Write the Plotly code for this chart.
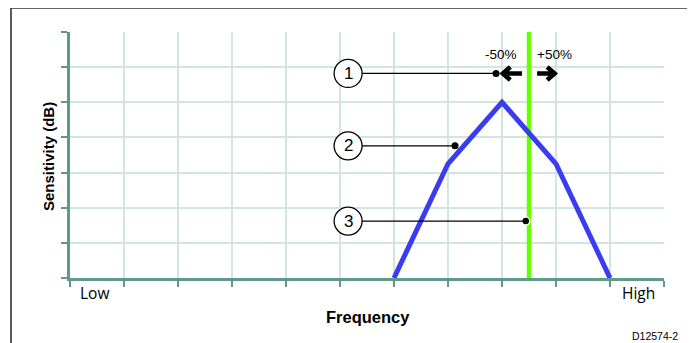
import plotly.graph_objects as go

# ---- data ----
freq_pts = [6, 7, 8, 9, 10]
sens_pts = [0, 3.25, 5, 3.25, 0]
center_freq = 8.5
x_tick_labels = ["Low", "High"]
x_tick_label_pos = [0.46, 10.52]
callout_nums = ["1", "2", "3"]
callout_circle_x = [5.15, 5.15, 5.15]
callout_y = [5.82, 3.76, 1.62]
callout_dot_x = [7.89, 7.13, 8.44]
pct_labels = ["-50%", "+50%"]
pct_label_x = [7.99, 8.98]
pct_label_y = 6.35
arrow_head_x = [7.96, 9.03]
arrow_tail_x = [8.37, 8.65]

AXC = "#5e9a8b"
GRIDC = "#cfe7de"
PX_PER_X = 54.0
PX_PER_Y = 246 / 7

# plot area in page pixels: x 70..664, y 32..278 (page body has 8px margin)
def px_x(p):
    return (p - 70) / 594

def px_y(p):
    return (278 - p) / 246

fig = go.Figure()

fig.add_trace(go.Scatter(x=[center_freq, center_freq], y=[0, 7], mode="lines",
                         line=dict(color="#66ff00", width=4.5), hoverinfo="skip"))
fig.add_trace(go.Scatter(x=freq_pts, y=sens_pts, mode="lines",
                         line=dict(color="#3b3bf2", width=5), hoverinfo="skip"))

shapes = []
for cx, cy, dx in zip(callout_circle_x, callout_y, callout_dot_x):
    shapes.append(dict(type="line", xref="x", yref="y", x0=cx + 14 / PX_PER_X, x1=dx,
                       y0=cy, y1=cy, line=dict(color="black", width=1.3)))
    shapes.append(dict(type="circle", xref="x", yref="y", xsizemode="pixel",
                       ysizemode="pixel", xanchor=cx, yanchor=cy,
                       x0=-14, x1=14, y0=-14, y1=14,
                       line=dict(color="black", width=1.3), fillcolor="white"))

# bold chevron arrows
ay = callout_y[0]
for hx, tx in zip(arrow_head_x, arrow_tail_x):
    sgn = 1 if tx > hx else -1
    tip = hx + sgn * 3.0 / PX_PER_X
    ax_arm = tip + sgn * 7.5 / PX_PER_X
    ady = 6.5 / PX_PER_Y
    path = (f"M {ax_arm},{ay + ady} L {tip},{ay} L {ax_arm},{ay - ady} "
            f"M {tip + sgn * 2 / PX_PER_X},{ay} L {tx},{ay}")
    shapes.append(dict(type="path", xref="x", yref="y", path=path,
                       line=dict(color="black", width=4.5)))

shapes.append(dict(type="rect", xref="paper", yref="paper",
                   x0=px_x(11), x1=px_x(688), y0=px_y(360), y1=px_y(8),
                   line=dict(color="#333333", width=1.6), layer="below"))
shapes.append(dict(type="line", xref="paper", yref="paper",
                   x0=px_x(688.5), x1=px_x(688.5), y0=px_y(360), y1=px_y(8),
                   line=dict(color="#555555", width=2.5), layer="below"))

fig.add_trace(go.Scatter(x=callout_dot_x[:2], y=callout_y[:2], mode="markers",
                         marker=dict(color="black", size=7), hoverinfo="skip"))
fig.add_trace(go.Scatter(x=callout_dot_x[2:], y=callout_y[2:], mode="markers",
                         marker=dict(color="black", size=8,
                                     line=dict(color="white", width=1.5)),
                         hoverinfo="skip"))

C = dict(xanchor="center", yanchor="middle", showarrow=False)
ann = []
for cx, cy, t in zip(callout_circle_x, callout_y, callout_nums):
    ann.append(dict(x=cx, y=cy, xref="x", yref="y", text=t,
                    font=dict(family="Arial", size=17, color="black"), **C))
for lx, t in zip(pct_label_x, pct_labels):
    ann.append(dict(x=lx, y=pct_label_y, xref="x", yref="y", text=t,
                    font=dict(family="Arial", size=13.5, color="black"), **C))
for px, t in zip(x_tick_label_pos, x_tick_labels):
    ann.append(dict(x=px, y=px_y(293), xref="x", yref="paper", text=t,
                    font=dict(family="Open Sans", size=15.5, color="black"), **C))
ann.append(dict(x=px_x(368), y=px_y(317), xref="paper", yref="paper",
                text="<b>Frequency</b>",
                font=dict(family="Arial", size=16.5, color="black"), **C))
ann.append(dict(x=px_x(48), y=px_y(157), xref="paper", yref="paper",
                text="<b>Sensitivity (dB)</b>", textangle=-90,
                font=dict(family="Arial", size=15, color="black"), **C))
ann.append(dict(x=px_x(655), y=px_y(336), xref="paper", yref="paper",
                text="D12574-2",
                font=dict(family="Arial", size=10.5, color="black"), **C))

axis_common = dict(showgrid=True, gridcolor=GRIDC, gridwidth=2, showline=True,
                   linecolor=AXC, linewidth=3, ticks="outside", ticklen=6,
                   tickwidth=2, tickcolor=AXC, showticklabels=False,
                   zeroline=False, dtick=1, tick0=0, fixedrange=True)

fig.update_layout(
    width=687, height=335, autosize=False,
    margin=dict(l=62, r=31, t=24, b=65),
    plot_bgcolor="white", paper_bgcolor="white",
    showlegend=False,
    xaxis=dict(range=[0, 11], **axis_common),
    yaxis=dict(range=[0, 7], **axis_common),
    shapes=shapes, annotations=ann,
)

fig.write_html("out.html", config={"displayModeBar": False})
